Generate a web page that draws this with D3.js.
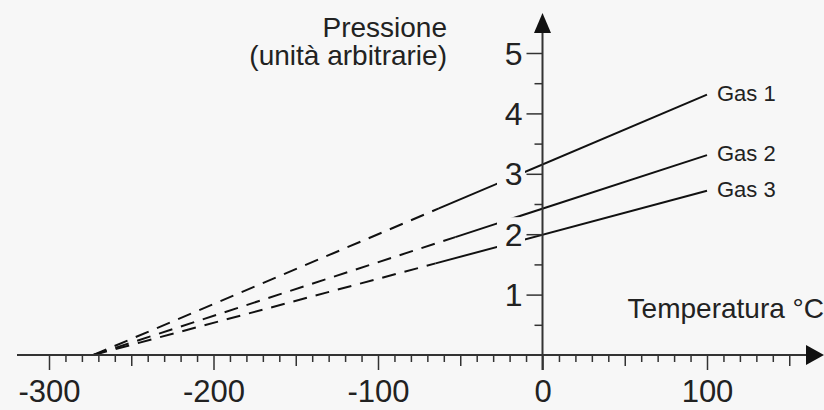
<!DOCTYPE html>
<html>
<head>
<meta charset="utf-8">
<script src="https://cdn.jsdelivr.net/npm/d3@7"></script>
<style>
  body { margin: 0; background: #f7f7f7; }
  text { font-family: "Liberation Sans", Arial, sans-serif; fill: #222; }
</style>
</head>
<body>
<div id="chart"></div>
<script>
// data
var gases = ["Gas 1", "Gas 2", "Gas 3"];
var tempRange = [-273, 100];            // °C, from absolute zero to 100
var pressureAtZeroK = [0, 0, 0];
var pressureAt100 = [4.31, 3.31, 2.72];
var measuredFrom = [-63, -53, -65];     // where the dashed extrapolation turns solid
var xTickValues = [-300, -200, -100, 0, 100];
var yTickValues = [1, 2, 3, 4, 5];

var w = 824;
var h = 410;

var xScale = d3.scaleLinear()
              .domain([-300, 100])
              .range([49, 707]);

var yScale = d3.scaleLinear()
              .domain([0, 5])
              .range([355, 53]);

var svg = d3.select("#chart")
            .append("svg")
            .attr("width", w)
            .attr("height", h);

svg.append("rect")
   .attr("width", w)
   .attr("height", h)
   .attr("fill", "#f7f7f7");

var line = d3.line()
            .x(function(d) { return xScale(d[0]); })
            .y(function(d) { return yScale(d[1]); });

// each gas is a straight line between its two end values
gases.forEach(function(g, i) {
  var p = d3.scaleLinear().domain(tempRange).range([pressureAtZeroK[i], pressureAt100[i]]);
  var t0 = tempRange[0], t1 = measuredFrom[i], t2 = tempRange[1];
  svg.append("path")
     .attr("d", line([[t0, p(t0)], [t1, p(t1)]]))
     .attr("fill", "none")
     .attr("stroke", "#111")
     .attr("stroke-width", 2)
     .attr("stroke-dasharray", "14,9");
  svg.append("path")
     .attr("d", line([[t1, p(t1)], [t2, p(t2)]]))
     .attr("fill", "none")
     .attr("stroke", "#111")
     .attr("stroke-width", 2);
  svg.append("text")
     .attr("x", xScale(t2) + 10)
     .attr("y", yScale(p(t2)) + 6)
     .attr("font-size", 22)
     .text(g);
});

// background patches behind the y labels so the lines break there
svg.selectAll(".lblbg")
   .data(yTickValues)
   .enter()
   .append("rect")
   .attr("x", 497)
   .attr("y", function(d) { return yScale(d) - 17; })
   .attr("width", 28)
   .attr("height", 34)
   .attr("fill", "#f7f7f7");

// x axis
var xAxis = d3.axisBottom(xScale)
              .tickValues(d3.range(-300, 151, 10))
              .tickSize(7)
              .tickFormat(function(d) { return xTickValues.indexOf(d) >= 0 ? String(d) : ""; });

var gx = svg.append("g")
            .attr("transform", "translate(0," + yScale(0) + ")")
            .call(xAxis);
gx.select(".domain").remove();
gx.selectAll(".tick line")
  .attr("stroke", "#333")
  .attr("stroke-width", 1.5)
  .attr("y2", function(d) { return d % 100 === 0 ? 15 : (d % 50 === 0 ? 11 : 7); });
gx.selectAll(".tick text")
  .attr("y", 47)
  .attr("dy", 0)
  .attr("font-size", 31)
  .attr("font-family", "Liberation Sans, Arial, sans-serif")
  .attr("fill", "#222");
gx.append("line")
  .attr("x1", 17)
  .attr("x2", 808)
  .attr("stroke", "#333")
  .attr("stroke-width", 2);
gx.append("path")
  .attr("d", "M824,0 L806,-10 L806,10 Z")
  .attr("fill", "#111");

// y axis
var yAxis = d3.axisLeft(yScale)
              .tickValues(d3.range(0.5, 5.01, 0.5))
              .tickSize(8)
              .tickFormat(function(d) { return yTickValues.indexOf(d) >= 0 ? String(d) : ""; });

var gy = svg.append("g")
            .attr("transform", "translate(" + xScale(0) + ",0)")
            .call(yAxis);
gy.select(".domain").remove();
gy.selectAll(".tick line")
  .attr("stroke", "#333")
  .attr("stroke-width", 1.5)
  .attr("x2", function(d) { return d % 1 === 0 ? -16 : -8; });
gy.selectAll(".tick text")
  .attr("x", -20)
  .attr("dy", 0)
  .attr("y", 11)
  .attr("font-size", 32)
  .attr("font-family", "Liberation Sans, Arial, sans-serif")
  .attr("fill", "#222");
gy.append("line")
  .attr("y1", yScale(0) + 15)
  .attr("y2", 32)
  .attr("stroke", "#333")
  .attr("stroke-width", 2);
gy.append("path")
  .attr("d", "M0,13 L-8.5,33 L8.5,33 Z")
  .attr("fill", "#111");

// axis titles
svg.append("text")
   .attr("x", 447)
   .attr("y", 37)
   .attr("text-anchor", "end")
   .attr("font-size", 28)
   .text("Pressione");
svg.append("text")
   .attr("x", 447)
   .attr("y", 65)
   .attr("text-anchor", "end")
   .attr("font-size", 28)
   .text("(unità arbitrarie)");
svg.append("text")
   .attr("x", 824)
   .attr("y", 318)
   .attr("text-anchor", "end")
   .attr("font-size", 28)
   .text("Temperatura °C");
</script>
</body>
</html>
